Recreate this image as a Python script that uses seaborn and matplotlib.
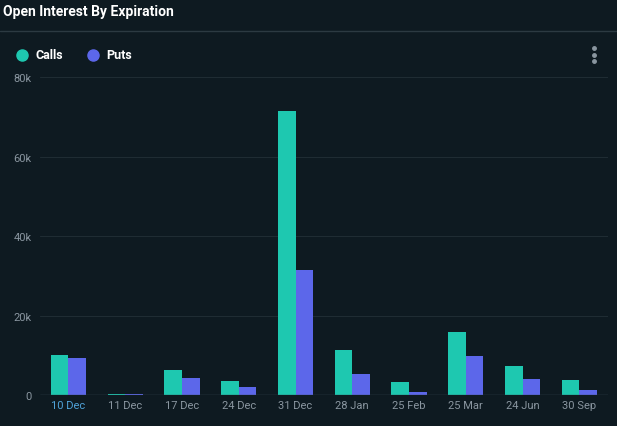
import matplotlib
matplotlib.use("Agg")
import matplotlib.pyplot as plt
import seaborn as sns
import pandas as pd
from matplotlib.ticker import FuncFormatter

expirations = ['10 Dec', '11 Dec', '17 Dec', '24 Dec', '31 Dec', '28 Jan', '25 Feb', '25 Mar', '24 Jun', '30 Sep']
calls = [10100, 300, 6300, 3500, 71500, 11400, 3300, 15900, 7300, 3800]
puts = [9300, 200, 4300, 2000, 31600, 5300, 800, 9800, 4000, 1200]

bg = '#0e1a21'
df = pd.DataFrame({'exp': expirations * 2,
                   'oi': calls + puts,
                   'side': ['Calls'] * len(calls) + ['Puts'] * len(puts)})

sns.set_style('dark')
plt.rcParams['font.family'] = ['Roboto', 'DejaVu Sans']
fig = plt.figure(figsize=(6.17, 4.27), dpi=100, facecolor=bg)
ax = fig.add_axes([0.065, 0.072, 0.92, 0.745], facecolor=bg)

sns.barplot(data=df, x='exp', y='oi', hue='side', palette=['#1ec8b0', '#5c67ea'],
            width=0.62, gap=0, saturation=1, linewidth=0, ax=ax, legend=False)

ax.set_ylim(0, 80000)
ax.set_yticks([0, 20000, 40000, 60000, 80000])
ax.yaxis.set_major_formatter(FuncFormatter(lambda v, p: '0' if v == 0 else f'{int(v/1000)}k'))
ax.grid(axis='y', color='#1f2c33', linewidth=0.8)
ax.grid(axis='x', visible=False)
ax.set_axisbelow(True)
ax.set_xlabel('')
ax.set_ylabel('')
for s in ax.spines.values():
    s.set_visible(False)
ax.tick_params(colors='#8a96a0', labelsize=8, length=0)
ax.tick_params(axis='y', pad=6)
for lbl in ax.get_xticklabels():
    lbl.set_color('#8a96a0')
ax.get_xticklabels()[0].set_color('#4fa3d9')
ax.axhline(0, color='#3a4a55', linewidth=1)

fig.text(0.005, 0.972, 'Open Interest By Expiration', color='white', fontsize=10, fontweight='bold', va='center')
fig.add_artist(plt.Line2D([0, 1], [0.925, 0.925], color='#2c3a42', linewidth=1))
fig.add_artist(plt.Line2D([0.036], [0.87], marker='o', markersize=8, color='#1ec8b0'))
fig.text(0.058, 0.87, 'Calls', color='white', fontsize=9, fontweight='bold', va='center')
fig.add_artist(plt.Line2D([0.15], [0.87], marker='o', markersize=8, color='#5c67ea'))
fig.text(0.172, 0.87, 'Puts', color='white', fontsize=9, fontweight='bold', va='center')
for yy in [0.885, 0.87, 0.855]:
    fig.add_artist(plt.Line2D([0.963], [yy], marker='o', markersize=2.5, color='#8a96a0'))

fig.savefig('out.png', facecolor=bg)
